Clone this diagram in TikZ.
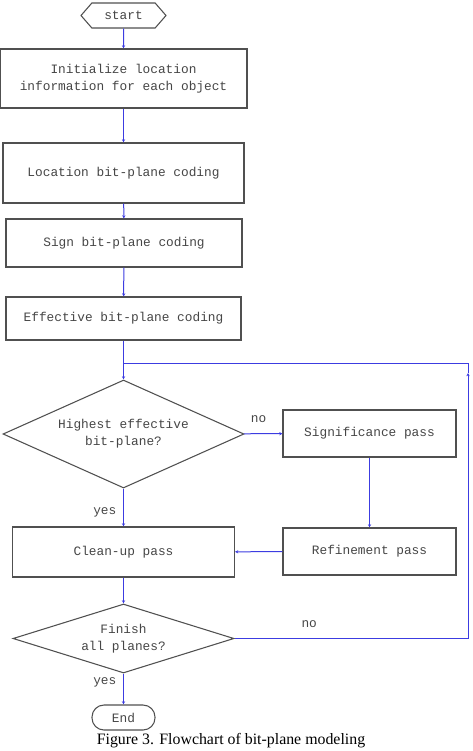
\documentclass[tikz,border=0pt]{standalone}
\usepackage{fontspec}
\setmainfont{Liberation Serif}
\setmonofont{Liberation Mono}
\usepackage{xcolor}
\usetikzlibrary{arrows.meta, positioning, shapes.geometric, shapes.symbols}
\definecolor{fcLine}{RGB}{60,60,225}
\definecolor{fcBorder}{RGB}{80,80,80}
\definecolor{fcText}{RGB}{70,70,70}

\begin{document}
\begin{tikzpicture}[
    x=0.75pt, y=-0.75pt,
    box/.style={draw=fcBorder, line width=0.8pt, fill=white, align=center,
      font=\ttfamily\fontsize{9.6}{13}\selectfont, text=fcText, inner sep=2pt},
    pass/.style={box, minimum width=129.75pt, minimum height=35.25pt},
    decide/.style={box, diamond, inner sep=0pt},
    terminal/.style={box, minimum width=47.25pt, minimum height=18.75pt, inner sep=0pt},
    lbl/.style={font=\ttfamily\fontsize{9.6}{12}\selectfont, text=fcText, inner sep=0pt},
    line/.style={draw=fcLine, line width=0.75pt},
    arr/.style={line, -{Stealth[length=2.4pt,width=2.4pt]}}
  ]
    \useasboundingbox (0,0) rectangle (473,751);
    % main column
    \node[terminal, signal, signal to=west and east, signal pointer angle=98,
      minimum width=63.75pt] (start) at (123.5,15.5) {start};
    \node[box, minimum width=185.25pt, minimum height=44.25pt] (init) at (123.5,78.5)
      {Initialize location\\information for each object};
    \node[box, minimum width=180.75pt, minimum height=45pt] (loc) at (123.5,173)
      {Location bit-plane coding};
    \node[box, minimum width=177pt, minimum height=36pt] (sign) at (124,243)
      {Sign bit-plane coding};
    \node[box, minimum width=176.25pt, minimum height=32.25pt] (eff) at (123.5,318.5)
      {Effective bit-plane coding};
    \node[decide, aspect=2.2, minimum width=180.75pt, minimum height=81pt] (high) at (123.5,434)
      {Highest effective\\bit-plane?};
    \node[box, minimum width=166.5pt, minimum height=37.5pt] (clean) at (123.5,552)
      {Clean-up pass};
    \node[decide, aspect=3.2, minimum width=165.75pt, minimum height=51.75pt] (fin) at (123.5,638.5)
      {Finish\\all planes?};
    \node[terminal, rounded corners=9pt] (end) at (123.5,717.5) {End};
    % side column
    \node[pass] (sig) at (369.5,433.5) {Significance pass};
    \node[pass] (ref) at (369.5,551.5) {Refinement pass};
    \coordinate (join) at (123.5,363);
    \coordinate (loopA) at (468,373);
    \node[font=\fontsize{11.9}{13}\selectfont, inner sep=0pt] (cap) at (231,741)
      {Figure 3. Flowchart of bit-plane modeling};
    % connectors
    \draw[arr] (start) -- (init);
    \draw[arr] (init) -- (loc);
    \draw[arr] (loc) -- (sign);
    \draw[arr] (sign) -- (eff);
    \draw[arr] (eff) -- (high);
    \draw[arr] (high) -- node[lbl, pos=0.38, above=8pt] {no} (sig);
    \draw[arr] (sig) -- (ref);
    \draw[arr] (ref) -- (clean);
    \draw[arr] (high) -- node[lbl, pos=0.64, left=5pt] {yes} (clean);
    \draw[arr] (clean) -- (fin);
    \draw[arr] (fin) -- node[lbl, pos=0.3, left=5pt] {yes} (end);
    \draw[arr] (fin.east) -| node[lbl, pos=0.16, above=8pt] {no} (loopA);
    \draw[line] (loopA) |- (join);
  \end{tikzpicture}
\end{document}
